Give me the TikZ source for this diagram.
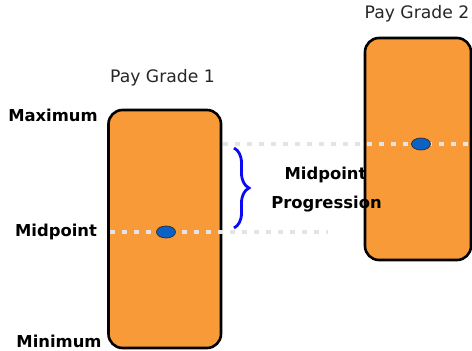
\documentclass[tikz,border=0pt]{standalone}
\usepackage{fontspec}
\setmainfont{DejaVu Sans}
\usetikzlibrary{decorations.pathreplacing,shapes.geometric}
\definecolor{gradeorange}{HTML}{F99A38}
\definecolor{dotgrey}{HTML}{E4E4E4}
\definecolor{midblue}{HTML}{0A62C6}
\definecolor{bracebl}{HTML}{0A0AF5}
\begin{document}
\begin{tikzpicture}[x=1pt,y=-1pt,
  gradebox/.style={draw=black,line width=2.6pt,fill=gradeorange,rounded corners=14pt},
  guide/.style={draw=dotgrey,line width=4.5pt,dash pattern=on 5pt off 7pt},
  middot/.style={draw=black!80,line width=0.8pt,fill=midblue,ellipse,minimum width=19pt,minimum height=12pt,inner sep=0pt},
  sidelabel/.style={font=\bfseries\fontsize{16.4}{19}\selectfont,anchor=base,inner sep=0pt},
  gradelabel/.style={font=\fontsize{17.2}{20}\selectfont,text=black!85,anchor=base,inner sep=0pt}]
\useasboundingbox (0,0) rectangle (472,351);

% pay grade bars
\draw[gradebox] (108.5,110) rectangle (221,348);
\draw[gradebox] (365,38) rectangle (471,260);
\coordinate (b1mid) at (110,232);
\coordinate (b1end) at (328,232);
\coordinate (b2start) at (223,144);
\coordinate (b2end) at (472,144);

% midpoint guide lines
\draw[guide] (b1mid) -- (b1end);
\draw[guide] (b2start) -- (b2end);

% midpoint markers
\node[middot] (m1) at (166,232) {};
\node[middot] (m2) at (421,144) {};

% brace between the two midpoints
\coordinate (brtop) at (234,148);
\coordinate (brbot) at (234,228);
\draw[bracebl,line width=2.8pt,decorate,decoration={brace,amplitude=15pt}] (brtop) -- (brbot);

% labels
\node[gradelabel] (g1) at (162.5,82) {Pay Grade 1};
\node[gradelabel] (g2) at (417,18) {Pay Grade 2};
\node[sidelabel] (max) at (53,121) {Maximum};
\node[sidelabel] (mid) at (56,236) {Midpoint};
\node[sidelabel] (min) at (59,347) {Minimum};
\node[sidelabel] (mp1) at (325.5,179) {Midpoint};
\node[sidelabel] (mp2) at (326.5,208) {Progression};
\end{tikzpicture}
\end{document}
